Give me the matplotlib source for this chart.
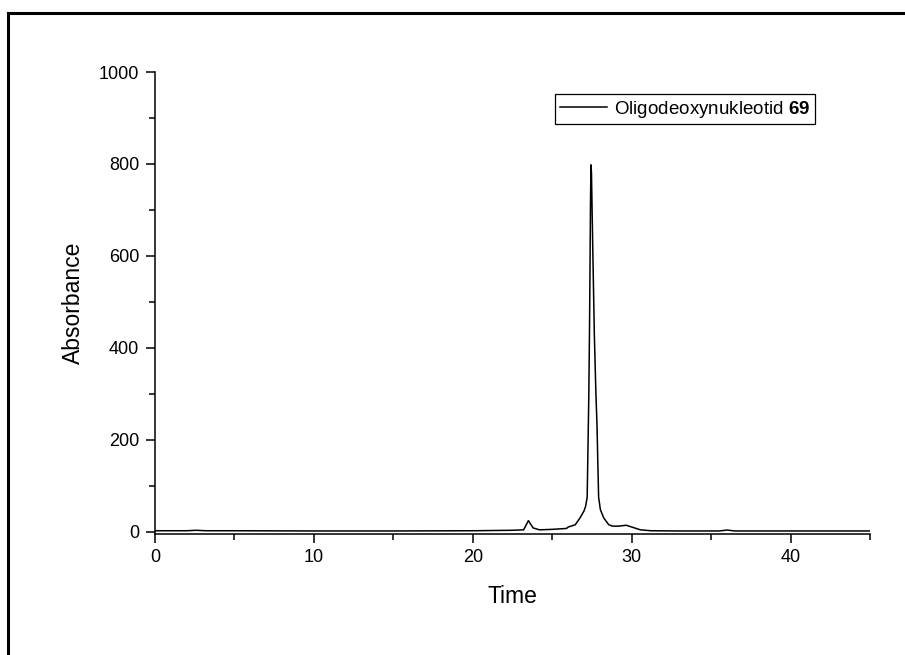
import numpy as np
import matplotlib.pyplot as plt
from matplotlib.lines import Line2D
from matplotlib.ticker import MultipleLocator

plt.rcParams['font.family'] = ['Liberation Sans', 'DejaVu Sans']
plt.rcParams['mathtext.fontset'] = 'custom'
plt.rcParams['mathtext.bf'] = 'Liberation Sans:bold'
plt.rcParams['mathtext.rm'] = 'Liberation Sans'

# chromatogram
time = [0, 2.0, 2.6, 3.2, 5, 10, 15, 20, 22.5, 23.2, 23.5, 23.8, 24.2, 25.0,
        25.9, 26.0, 26.45, 26.75, 27.0, 27.1, 27.2, 27.3, 27.35, 27.41, 27.44,
        27.47, 27.55, 27.65, 27.75, 27.82, 27.87, 27.92, 28.03, 28.24, 28.56,
        28.8, 29.2, 29.65, 30.1, 30.55, 31.2, 33, 35.5, 36.0, 36.5, 38, 45]
absorb = [2, 2, 3, 2, 2, 1.5, 1.5, 2, 3, 4, 24, 8, 4, 5,
          7, 10, 15, 30, 45, 55, 75, 290, 450, 720, 798,
          780, 620, 430, 300, 230, 150, 75, 48, 30, 15,
          12, 12, 14, 9, 4, 2, 1.5, 1.5, 3.5, 1.5, 1.5, 1.5]
label = 'Oligodeoxynukleotid $\\bf{69}$'

fig = plt.figure(figsize=(9.05, 6.55), dpi=100)
ax = fig.add_axes([155/905, 1-533.5/655, 715/905, (533.5-72)/655])

ax.plot(time, absorb, color='black', lw=1.1, label=label)

ax.set_xlim(0, 45)
ax.set_ylim(-4, 1000)
ax.xaxis.set_major_locator(MultipleLocator(10))
ax.xaxis.set_minor_locator(MultipleLocator(5))
ax.yaxis.set_major_locator(MultipleLocator(200))
ax.yaxis.set_minor_locator(MultipleLocator(100))
ax.tick_params(which='major', direction='out', length=6.5, width=1.1,
               labelsize=13, pad=5)
ax.tick_params(which='minor', direction='out', length=4, width=1.1)
for s in ['top', 'right']:
    ax.spines[s].set_visible(False)
for s in ['left', 'bottom']:
    ax.spines[s].set_linewidth(1.1)

ax.set_xlabel('Time', fontsize=16.5, labelpad=13)
ax.set_ylabel('Absorbance', fontsize=16.5, labelpad=10)

leg = ax.legend(loc='upper right', bbox_to_anchor=(815/905, 1-94/655),
                bbox_transform=fig.transFigure, borderaxespad=0,
                fontsize=13.5, handlelength=2.5, handletextpad=0.4,
                fancybox=False, framealpha=1, borderpad=0.25)
leg.get_frame().set_edgecolor('black')
leg.get_frame().set_linewidth(0.9)

# outer frame (top and left edges only visible)
fig.add_artist(Line2D([7.5/905, 1.0], [1-12.5/655, 1-12.5/655],
                      transform=fig.transFigure, color='black', lw=2.2))
fig.add_artist(Line2D([7.5/905, 7.5/905], [1-12.5/655, 0],
                      transform=fig.transFigure, color='black', lw=2.2))

fig.savefig('out.png', dpi=100)
